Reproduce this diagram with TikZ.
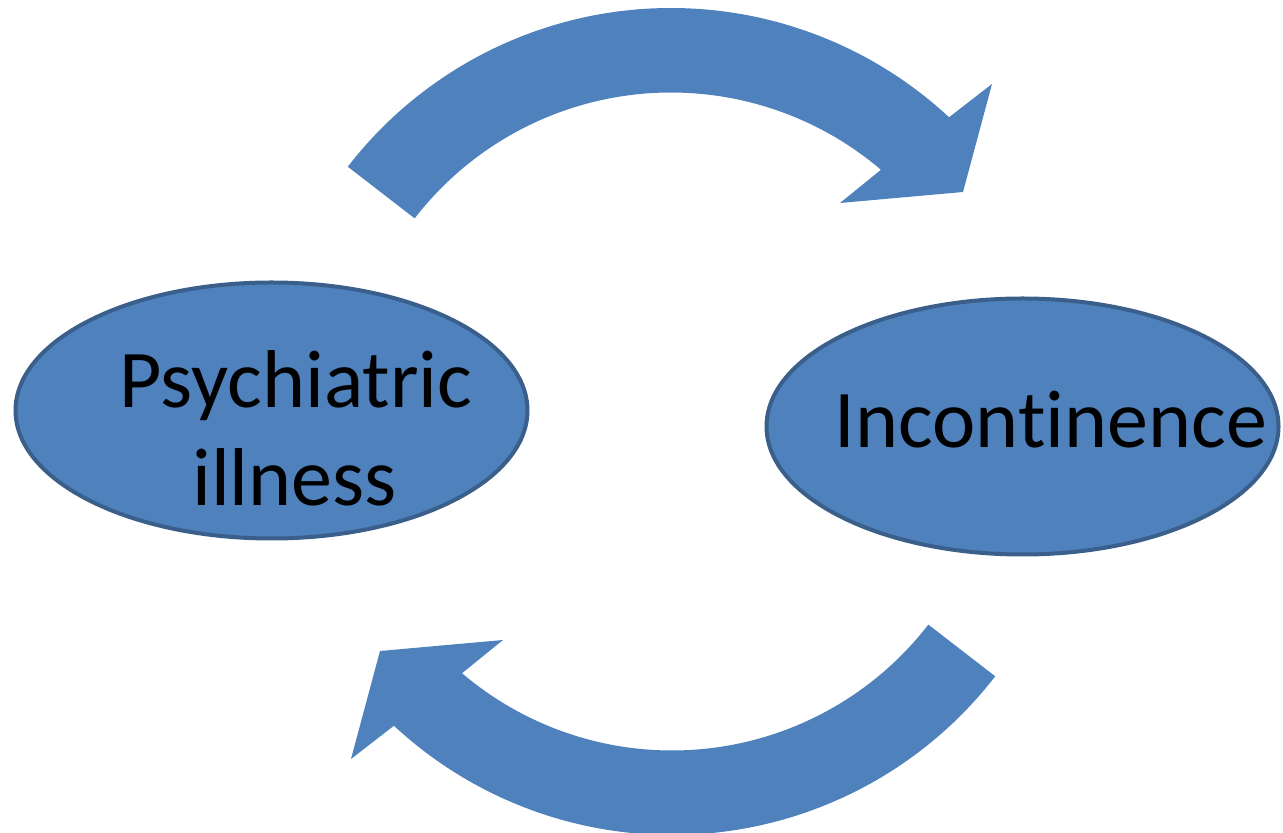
\documentclass[tikz,border=0pt]{standalone}
\usepackage{fontspec}
\setmainfont{Carlito}[Ligatures={NoCommon}]
\usetikzlibrary{shapes.geometric}
\definecolor{fillblue}{HTML}{4F81BD}
\definecolor{edgeblue}{HTML}{3A5F8B}
\tikzset{
  bubble/.style={ellipse, draw=edgeblue, line width=4pt, fill=fillblue,
    minimum width=512pt, minimum height=256pt, inner sep=0pt},
  bigtext/.style={font=\fontsize{82}{98}\selectfont, text=black, anchor=base, inner sep=0pt},
  cyclearrow/.style={fill=fillblue, draw=none}
}
\begin{document}
\begin{tikzpicture}[x=1pt,y=1pt]
\useasboundingbox (0,0) rectangle (1283,833);
% ellipses
\node[bubble] (psy) at (271.5,422.5) {};
\node[bubble] (inc) at (1022.5,406.5) {};
% texts
\node[bigtext] (psyA) at (296,425.5) {Psychiatric};
\node[bigtext] (psyB) at (294.5,327.3) {illness};
\node[bigtext] (incT) at (1051,385) {Incontinence};
% circular arrows
\def\cyclepath{%
  (142.3:408.5) arc[start angle=142.3, end angle=47.1, radius=408.5]
  -- (321,332.5) -- (292,224.5) -- (169,213.5)
  -- (49.6:324) arc[start angle=49.6, end angle=142.3, radius=324] -- cycle}
\begin{scope}[shift={(671,416.5)}]
  \fill[cyclearrow] \cyclepath;
\end{scope}
\begin{scope}[shift={(672,406.5)}, rotate=180]
  \fill[cyclearrow] \cyclepath;
\end{scope}
\end{tikzpicture}
\end{document}
